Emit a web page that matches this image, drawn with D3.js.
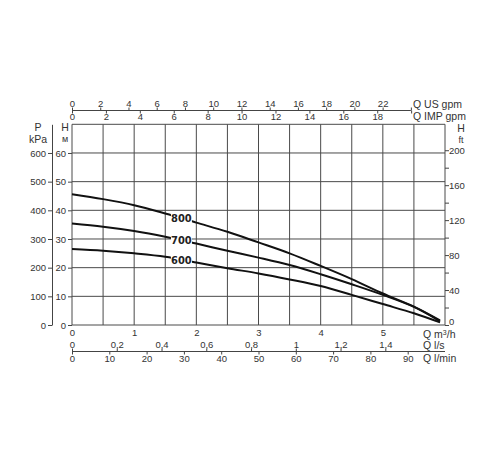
<!DOCTYPE html>
<html><head><meta charset="utf-8">
<script src="https://cdn.jsdelivr.net/npm/d3@7/dist/d3.min.js"></script>
<style>
body{margin:0;background:#fff;}
svg{display:block;font-family:"Liberation Sans",Arial,sans-serif;}
.tk text{fill:#333;font-size:9.5px;}
.tk line,.tk path{stroke:#444;}
</style></head>
<body><svg id="c" width="500" height="450"></svg>
<script>
// ---- data ----
const flowQ = [0, 0.5, 1, 1.5, 2, 2.5, 3, 3.5, 4, 4.5, 5, 5.5, 5.92];
const head800 = [45.6, 43.9, 41.8, 38.9, 35.7, 32.5, 28.8, 25.0, 20.6, 16.0, 11.0, 6.4, 1.6];
const head700 = [35.4, 34.3, 32.8, 30.8, 28.4, 25.9, 23.5, 20.9, 17.7, 14.2, 10.5, 6.3, 1.3];
const head600 = [26.5, 25.9, 25.0, 23.8, 21.8, 19.8, 18.0, 15.9, 13.6, 10.5, 7.3, 4.1, 0.9];
const seriesNames = ["800", "700", "600"];
const labelQ = 1.76;
const m3hTicks = [0, 1, 2, 3, 4, 5];
const headTicks = [0, 10, 20, 30, 40, 50, 60];
const kpaTicks = [0, 100, 200, 300, 400, 500, 600];
const ftTicks = [0, 20, 40, 60, 80, 100, 120, 140, 160, 180, 200];
const usGpmTicks = [0, 2, 4, 6, 8, 10, 12, 14, 16, 18, 20, 22, 24];
const impGpmTicks = [0, 2, 4, 6, 8, 10, 12, 14, 16, 18, 20];
const lsTicks = [0, 0.2, 0.4, 0.6, 0.8, 1, 1.2, 1.4];
const lminTicks = [0, 10, 20, 30, 40, 50, 60, 70, 80, 90];

const svg = d3.select("#c");
const L = 72, R = 445, T = 124.3, B = 325;
const x = d3.scaleLinear().domain([0, 6]).range([L, R]);
const y = d3.scaleLinear().domain([0, 70]).range([B, T]);
const fmtComma = d => String(d).replace(".", ",");

// grid
const g = svg.append("g");
g.selectAll(".vg").data(d3.range(0, 6.01, 0.5)).join("line")
  .attr("x1", d => x(d)).attr("x2", d => x(d)).attr("y1", T).attr("y2", B)
  .attr("stroke", "#4a4a4a").attr("stroke-width", 1);
g.selectAll(".hg").data(d3.range(0, 70.1, 10)).join("line")
  .attr("x1", L).attr("x2", R).attr("y1", d => y(d)).attr("y2", d => y(d))
  .attr("stroke", "#4a4a4a").attr("stroke-width", 1);

// left H axis
svg.append("g").attr("class", "tk").attr("transform", `translate(${L},0)`)
  .call(d3.axisLeft(y).tickValues(headTicks).tickSize(4).tickSizeOuter(0).tickPadding(2))
  .call(a => a.select(".domain").remove());
// P axis
const yP = d3.scaleLinear().domain([0, 700]).range([B, T]);
svg.append("g").attr("class", "tk").attr("transform", "translate(52,0)")
  .call(d3.axisLeft(yP).tickValues(kpaTicks).tickSize(4).tickSizeOuter(0).tickPadding(2));
// right ft axis
const yFt = d3.scaleLinear().domain([0, 70 * 3.28084]).range([B, T]);
svg.append("g").attr("class", "tk").attr("transform", `translate(${R},0)`)
  .call(d3.axisRight(yFt).tickValues(ftTicks).tickSize(4).tickSizeOuter(0).tickPadding(0)
    .tickFormat(d => d % 40 === 0 ? d : ""))
  .call(a => a.select(".domain").remove())
  .call(a => a.selectAll(".tick text").filter(d => d === 0).attr("dy", "-0.05em"));

// bottom m3/h
svg.append("g").attr("class", "tk").attr("transform", `translate(0,${B})`)
  .call(d3.axisBottom(x).tickValues(m3hTicks).tickSize(0).tickPadding(4).tickFormat(d3.format("d")))
  .call(a => a.select(".domain").remove());

// top gpm axes
const topY = 110.5;
const xUS = d3.scaleLinear().domain([0, 6 * 4.40287]).range([L, R]);
const xIMP = d3.scaleLinear().domain([0, 6 * 3.66615]).range([L, R]);
svg.append("g").attr("class", "tk").attr("transform", `translate(0,${topY})`)
  .call(d3.axisTop(xUS).tickValues(usGpmTicks).tickSize(3).tickPadding(1)
    .tickFormat(d => d <= 22 ? d : ""))
  .call(a => a.select(".domain").remove());
svg.append("g").attr("class", "tk").attr("transform", `translate(0,${topY})`)
  .call(d3.axisBottom(xIMP).tickValues(impGpmTicks).tickSize(3).tickPadding(0)
    .tickFormat(d => d <= 18 ? d : ""))
  .call(a => a.select(".domain").remove());
svg.append("line").attr("x1", xUS(0)).attr("x2", xUS(24)).attr("y1", topY).attr("y2", topY)
  .attr("stroke", "#444");

// bottom l/s, l/min axes
const botY = 351.5;
const xLs = d3.scaleLinear().domain([0, 6 / 3.6]).range([L, R]);
const xLmin = d3.scaleLinear().domain([0, 100]).range([L, R]);
svg.append("g").attr("class", "tk").attr("transform", `translate(0,${botY})`)
  .call(d3.axisTop(xLs).tickValues(lsTicks).tickSize(3).tickPadding(1).tickFormat(fmtComma))
  .call(a => a.select(".domain").remove());
svg.append("g").attr("class", "tk").attr("transform", `translate(0,${botY})`)
  .call(d3.axisBottom(xLmin).tickValues(lminTicks).tickSize(3).tickPadding(1))
  .call(a => a.select(".domain").remove());
svg.append("line").attr("x1", L).attr("x2", R).attr("y1", botY).attr("y2", botY)
  .attr("stroke", "#444");

// unit labels
const unit = (tx, ty, t, anchor) => svg.append("text").attr("x", tx).attr("y", ty)
  .attr("text-anchor", anchor || "start").attr("font-size", 10.5).attr("fill", "#333").text(t);
unit(413, 107.5, "Q US gpm");
unit(413, 119.5, "Q IMP gpm");
unit(38, 131, "P", "middle");
unit(38, 143, "kPa", "middle");
unit(65, 131, "H", "middle");
svg.append("text").attr("x", 65).attr("y", 142).attr("text-anchor", "middle")
  .attr("font-size", 9).attr("fill", "#333").text("м");
unit(461, 132, "H", "middle");
svg.append("text").attr("x", 461).attr("y", 143).attr("text-anchor", "middle")
  .attr("font-size", 9).attr("fill", "#333").text("ft");
const qm = svg.append("text").attr("x", 423).attr("y", 338).attr("font-size", 10.5).attr("fill", "#333");
qm.append("tspan").text("Q m");
qm.append("tspan").attr("font-size", 7).attr("dy", -3.5).text("3");
qm.append("tspan").attr("dy", 3.5).text("/h");
unit(423, 348.5, "Q l/s");
unit(423, 362, "Q l/min");

// curves
const series = [head800, head700, head600];
const line = d3.line().x(d => x(d[0])).y(d => y(d[1])).curve(d3.curveCatmullRom.alpha(0.5));
series.forEach((h, i) => {
  const pts = flowQ.map((q, j) => [q, h[j]]);
  svg.append("path").attr("d", line(pts)).attr("fill", "none")
    .attr("stroke", "#111").attr("stroke-width", 2);
  const hl = d3.scaleLinear().domain(flowQ).range(h)(labelQ);
  const lx = x(labelQ), ly = y(hl);
  svg.append("rect").attr("x", lx - 10.5).attr("y", ly - 6).attr("width", 21).attr("height", 12)
    .attr("fill", "#fff");
  svg.append("text").attr("x", lx).attr("y", ly + 4).attr("text-anchor", "middle")
    .attr("font-family", "'DejaVu Sans Condensed','Liberation Sans Narrow',sans-serif")
    .attr("font-weight", "bold").attr("font-size", 11).attr("fill", "#222")
    .text(seriesNames[i]);
});
</script></body></html>
